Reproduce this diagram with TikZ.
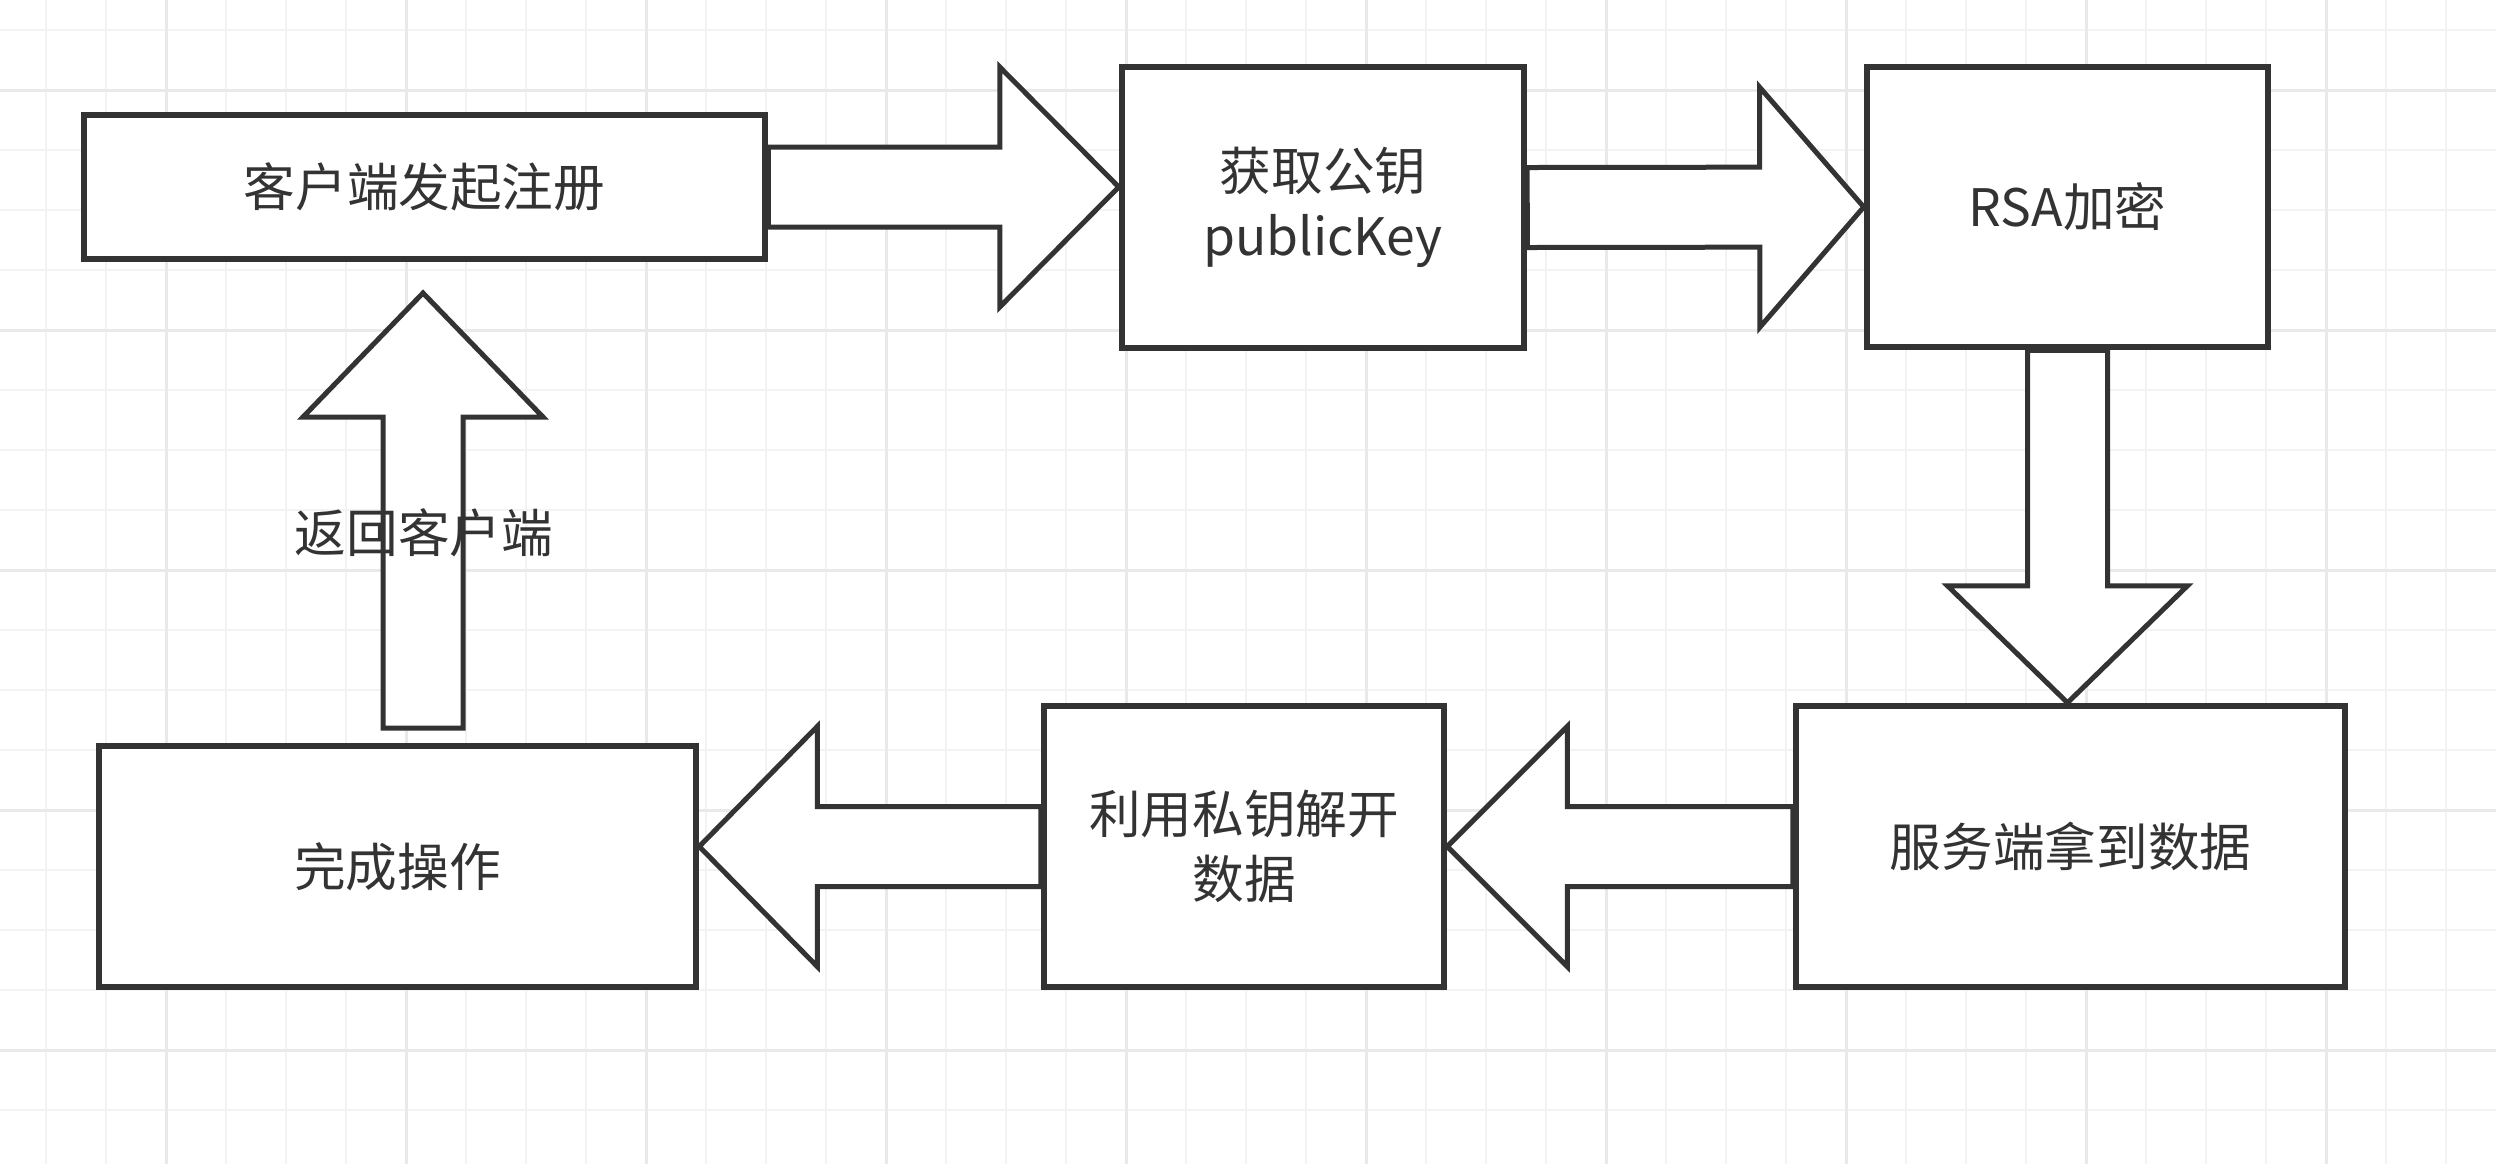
\documentclass[tikz,border=0pt]{standalone}
\usepackage{fontspec}
\setmainfont{Noto Sans CJK SC}
\usepackage{tikz}
\usetikzlibrary{calc, positioning}
\definecolor{ink}{HTML}{333333}
\definecolor{gridminor}{HTML}{F3F3F3}
\definecolor{gridmajor}{HTML}{E9E9E9}
\newcommand{\stepsize}{\fontsize{14.7pt}{18.6pt}\selectfont}
\tikzstyle{stepbox} = [rectangle, draw=ink, line width=0.65mm, fill=white, text=ink, align=center, inner sep=0pt, font=\stepsize]
\tikzstyle{barrow} = [draw=ink, line width=0.5mm, fill=white, line join=miter]
\tikzstyle{lbl} = [text=ink, inner sep=0pt, font=\stepsize]
\tikzstyle{minorline} = [draw=gridminor, line width=0.25mm]
\tikzstyle{majorline} = [draw=gridmajor, line width=0.3mm]
\newcommand{\blockarrow}[3]{%
  \coordinate (hb) at ($(#2)!#3!(#1)$);
  \path [barrow] ($(#1)!4mm!90:(#2)$) -- ($(hb)!4mm!-90:(#1)$) -- ($(hb)!12mm!-90:(#1)$) -- (#2)
    -- ($(hb)!12mm!90:(#1)$) -- ($(hb)!4mm!90:(#1)$) -- ($(#1)!4mm!-90:(#2)$) -- cycle;
}

\begin{document}
\begin{tikzpicture}[x=0.1mm, y=-0.1mm]
	\useasboundingbox [fill=white] (0,0) rectangle (2496,1164);
	\foreach \gx in {46,106,...,2446} \path [minorline] (\gx,0) -- (\gx,1164);
	\foreach \gy in {30,90,...,1110} \path [minorline] (0,\gy) -- (2496,\gy);
	\foreach \gx in {166,406,...,2326} \path [majorline] (\gx,0) -- (\gx,1164);
	\foreach \gy in {90,330,...,1050} \path [majorline] (0,\gy) -- (2496,\gy);

	\node [stepbox, minimum width=68.1mm, minimum height=14.4mm] (reg) at (424.5,187) {客户端发起注册};
	\node [stepbox, minimum width=40.2mm, minimum height=28.1mm] (pubkey) at (1323,207.5) {获取公钥\\publicKey};
	\node [stepbox, minimum width=40.1mm, minimum height=28mm] (rsa) at (2067.5,207) {RSA加密};
	\node [stepbox, minimum width=54.9mm, minimum height=28.1mm] (server) at (2070.5,846.5) {服务端拿到数据};
	\node [stepbox, minimum width=40mm, minimum height=28.1mm] (decrypt) at (1244,846.5) {利用私钥解开\\数据};
	\node [stepbox, minimum width=59.7mm, minimum height=24.1mm] (done) at (397.5,866.5) {完成操作};
	\coordinate (back0) at (423,728);
	\coordinate (back1) at (423,293);

	\coordinate (t1) at (reg.east -| pubkey.west);
	\coordinate (t3) at (rsa.south |- server.north);
	\coordinate (t5) at (done.east |- decrypt.west);
	\blockarrow{reg.east}{t1}{11.9mm}
	\blockarrow{pubkey.east}{rsa.west}{10.4mm}
	\blockarrow{rsa.south}{t3}{11.7mm}
	\blockarrow{server.west}{decrypt.east}{12mm}
	\blockarrow{decrypt.west}{t5}{11.8mm}
	\blockarrow{back0}{back1}{12.4mm}

	\node [lbl] (backlbl) at (424,533) {返回客户端};
\end{tikzpicture}
\end{document}
